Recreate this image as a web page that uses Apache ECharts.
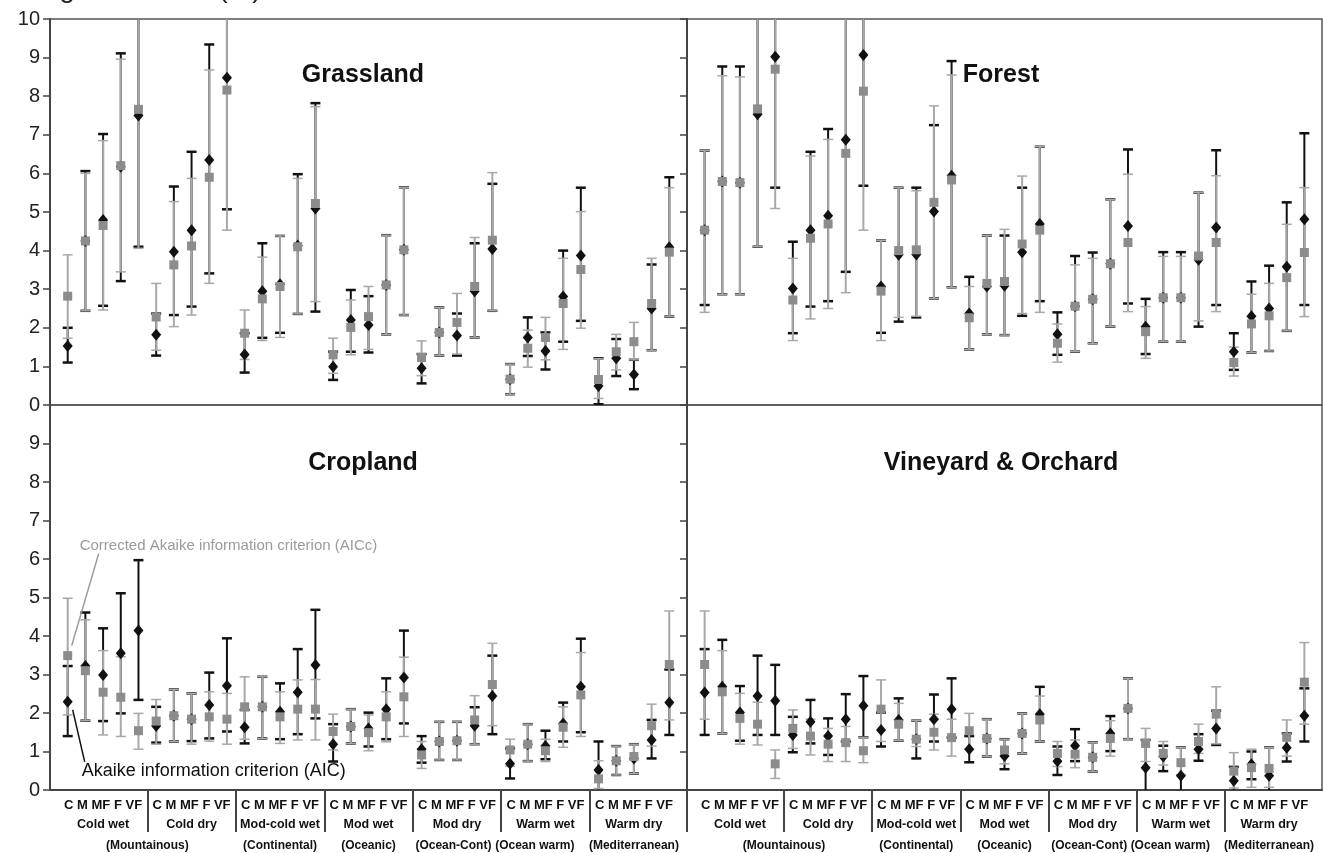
<!DOCTYPE html>
<html><head><meta charset="utf-8">
<script src="https://cdn.jsdelivr.net/npm/echarts@6/dist/echarts.min.js"></script>
<style>html,body{margin:0;padding:0;background:#fff}#c{width:1323px;height:853px}</style>
</head><body><div id="c"></div><script>
// ---------- labels ----------
const classes = ['C', 'M', 'MF', 'F', 'VF'];
const groups = ['Cold wet', 'Cold dry', 'Mod-cold wet', 'Mod wet', 'Mod dry', 'Warm wet', 'Warm dry'];
const regionNotes = ['(Mountainous)', '(Continental)', '(Oceanic)', '(Ocean-Cont)', '(Ocean warm)', '(Mediterranean)'];
const regionNotePos = [4.5, 12, 17, 21.8, 26.4, 32];
const panels = ['Grassland', 'Forest', 'Cropland', 'Vineyard & Orchard'];
const yTicks = [0, 1, 2, 3, 4, 5, 6, 7, 8, 9, 10];
const yTitle = 'Range of values (%)';
const noteAICc = 'Corrected Akaike information criterion (AICc)';
const noteAIC = 'Akaike information criterion (AIC)';

// ---------- Grassland ----------
const grassAIC   = [1.53,4.25,4.79,6.17,7.5, 1.82,3.97,4.53,6.35,8.48, 1.31,2.95,3.13,4.13,5.09, 0.99,2.2,2.07,3.11,4.02, 0.95,1.88,1.8,2.95,4.04, 0.67,1.75,1.4,2.81,3.87, 0.49,1.21,0.79,2.5,4.09];
const grassAICLo = [1.1,2.44,2.57,3.21,4.1, 1.28,2.33,2.55,3.41,5.07, 0.84,1.74,1.87,2.36,2.42, 0.65,1.38,1.36,1.83,2.33, 0.56,1.28,1.28,1.75,2.44, 0.28,1.27,0.92,1.64,2.18, 0.02,0.75,0.41,1.42,2.29];
const grassAICHi = [2.0,6.06,7.02,9.11,10.8, 2.37,5.66,6.56,9.34,10.8, 1.86,4.19,4.38,5.98,7.82, 1.38,2.98,2.82,4.4,5.64, 1.32,2.53,2.37,4.19,5.73, 1.06,2.27,1.88,4.0,5.63, 1.21,1.71,1.17,3.64,5.9];
const grassAICc   = [2.82,4.25,4.65,6.2,7.66, 2.28,3.63,4.12,5.9,8.16, 1.86,2.75,3.07,4.1,5.22, 1.3,2.01,2.29,3.11,4.02, 1.23,1.88,2.14,3.07,4.27, 0.67,1.47,1.75,2.63,3.51, 0.66,1.38,1.64,2.63,3.96];
const grassAICcLo = [1.73,2.44,2.46,3.45,4.06, 1.42,2.03,2.33,3.15,4.53, 1.18,1.67,1.75,2.36,2.68, 0.82,1.3,1.44,1.83,2.33, 0.76,1.28,1.32,1.75,2.44, 0.28,0.98,1.17,1.44,1.99, 0.17,0.91,1.17,1.42,2.29];
const grassAICcHi = [3.89,6.0,6.85,8.96,10.8, 3.15,5.27,5.87,8.68,10.8, 2.46,3.83,4.38,5.87,7.73, 1.73,2.72,3.07,4.4,5.64, 1.66,2.53,2.89,4.34,6.02, 1.06,1.94,2.27,3.8,5.01, 1.2,1.83,2.14,3.8,5.63];

// ---------- Forest ----------
const forestAIC   = [4.53,5.79,5.76,7.53,9.02, 3.02,4.53,4.9,6.87,9.07, 3.07,3.89,3.9,5.01,5.94, 2.37,3.07,3.09,3.96,4.69, 1.83,2.56,2.74,3.66,4.64, 2.03,2.78,2.78,3.76,4.6, 1.38,2.3,2.5,3.58,4.81];
const forestAICLo = [2.59,2.87,2.87,4.1,5.63, 1.86,2.55,2.69,3.45,5.68, 1.87,2.16,2.27,2.76,3.05, 1.44,1.83,1.81,2.31,2.69, 1.3,1.38,1.6,2.03,2.63, 1.32,1.64,1.64,2.03,2.59, 0.91,1.36,1.4,1.92,2.59];
const forestAICHi = [6.59,8.77,8.77,10.8,10.8, 4.23,6.56,7.15,10.8,10.8, 4.26,5.63,5.63,7.25,8.91, 3.32,4.39,4.39,5.63,6.69, 2.4,3.86,3.95,5.33,6.62, 2.75,3.96,3.96,5.5,6.6, 1.86,3.2,3.61,5.25,7.04];
const forestAICc   = [4.53,5.79,5.76,7.67,8.7, 2.72,4.32,4.69,6.52,8.13, 2.95,4.0,4.02,5.25,5.83, 2.26,3.15,3.2,4.17,4.53, 1.6,2.56,2.74,3.66,4.21, 1.9,2.78,2.78,3.86,4.21, 1.1,2.1,2.31,3.3,3.95];
const forestAICcLo = [2.4,2.87,2.87,4.1,5.09, 1.67,2.23,2.5,2.91,4.53, 1.67,2.27,2.3,2.76,3.05, 1.44,1.83,1.81,2.37,2.4, 1.11,1.38,1.6,2.03,2.42, 1.21,1.64,1.64,2.18,2.42, 0.75,1.36,1.4,1.92,2.29];
const forestAICcHi = [6.59,8.53,8.5,10.8,10.8, 3.8,6.45,6.88,10.8,10.8, 4.26,5.63,5.55,7.75,8.55, 3.07,4.39,4.55,5.93,6.69, 2.1,3.63,3.8,5.33,5.98, 2.55,3.85,3.85,5.5,5.94, 1.5,2.87,3.15,4.68,5.63];

// ---------- Cropland ----------
const cropAIC   = [2.29,3.22,2.99,3.55,4.14, 1.66,1.93,1.84,2.21,2.71, 1.63,2.16,2.03,2.54,3.25, 1.19,1.65,1.6,2.1,2.92, 1.06,1.26,1.28,1.67,2.44, 0.68,1.19,1.14,1.73,2.68, 0.52,0.76,0.82,1.3,2.27];
const cropAICLo = [1.4,1.8,1.79,1.99,2.34, 1.23,1.26,1.27,1.34,1.52, 1.21,1.34,1.32,1.45,1.86, 0.74,1.21,1.13,1.32,1.73, 0.71,0.78,0.78,1.19,1.45, 0.3,0.75,0.8,1.26,1.5, -0.1,0.39,0.43,0.82,1.43];
const cropAICHi = [3.22,4.61,4.2,5.11,5.97, 2.16,2.61,2.51,3.05,3.94, 2.08,2.94,2.77,3.66,4.68, 1.71,2.1,2.01,2.9,4.14, 1.4,1.77,1.77,2.15,3.49, 1.08,1.71,1.54,2.27,3.93, 1.26,1.14,1.19,1.82,3.13];
const cropAICc   = [3.49,3.1,2.54,2.41,1.54, 1.79,1.93,1.84,1.9,1.84, 2.16,2.16,1.9,2.1,2.1, 1.52,1.65,1.49,1.9,2.42, 0.91,1.26,1.28,1.82,2.74, 1.04,1.19,1.02,1.63,2.47, 0.29,0.76,0.87,1.67,3.26];
const cropAICcLo = [1.95,1.8,1.43,1.39,1.06, 1.19,1.26,1.19,1.27,1.19, 1.32,1.34,1.21,1.3,1.3, 1.04,1.21,1.02,1.25,1.39, 0.56,0.78,0.78,1.19,1.67, 0.62,0.75,0.74,1.11,1.39, 0.04,0.39,0.43,1.14,1.82];
const cropAICcHi = [4.98,4.42,3.62,3.46,1.99, 2.35,2.61,2.51,2.55,2.51, 2.94,2.94,2.55,2.86,2.87, 1.97,2.1,1.95,2.55,3.45, 1.26,1.77,1.77,2.45,3.81, 1.32,1.71,1.32,2.16,3.57, 0.76,1.14,1.19,2.23,4.65];

// ---------- Vineyard & Orchard ----------
const vineAIC   = [2.53,2.68,2.01,2.44,2.32, 1.43,1.77,1.4,1.84,2.19, 1.56,1.82,1.32,1.84,2.1, 1.06,1.34,0.88,1.47,1.97, 0.75,1.15,0.85,1.47,2.12, 0.58,0.87,0.37,1.06,1.6, 0.24,0.67,0.37,1.1,1.93];
const vineAICLo = [1.43,1.47,1.28,1.43,1.43, 0.98,1.21,0.91,1.26,1.37, 1.13,1.28,0.82,1.26,1.36, 0.72,0.87,0.54,0.95,1.26, 0.39,0.75,0.48,1.01,1.32, -0.1,0.49,-0.1,0.76,1.17, -0.1,0.28,-0.1,0.74,1.26];
const vineAICHi = [3.66,3.9,2.7,3.49,3.25, 1.9,2.34,1.86,2.49,2.96, 2.01,2.38,1.8,2.48,2.9, 1.4,1.84,1.32,1.99,2.68, 1.13,1.58,1.24,1.92,2.9, 1.3,1.15,1.11,1.45,2.06, 0.6,1.0,1.11,1.47,2.64];
const vineAICc   = [3.26,2.55,1.86,1.71,0.68, 1.6,1.4,1.19,1.23,1.02, 2.1,1.71,1.32,1.5,1.36, 1.54,1.34,1.04,1.47,1.82, 0.95,0.93,0.85,1.34,2.12, 1.21,0.95,0.71,1.26,1.97, 0.49,0.58,0.56,1.37,2.8];
const vineAICcLo = [1.84,1.47,1.19,1.17,0.3, 1.08,0.91,0.74,0.74,0.71, 1.26,1.28,1.13,1.04,0.88, 1.06,0.87,0.68,0.95,1.26, 0.61,0.58,0.48,0.88,1.32, 0.74,0.65,0.4,0.95,1.2, 0.05,0.07,0.07,0.88,1.71];
const vineAICcHi = [4.65,3.62,2.51,2.28,1.04, 2.08,1.84,1.6,1.65,1.37, 2.86,2.25,1.8,1.97,1.84, 1.99,1.84,1.32,1.99,2.44, 1.26,1.3,1.24,1.8,2.9, 1.6,1.26,1.11,1.71,2.68, 0.97,1.06,1.11,1.82,3.83];

// ---------- build ----------
const panelData = [
  [grassAIC, grassAICLo, grassAICHi, grassAICc, grassAICcLo, grassAICcHi],
  [forestAIC, forestAICLo, forestAICHi, forestAICc, forestAICcLo, forestAICcHi],
  [cropAIC, cropAICLo, cropAICHi, cropAICc, cropAICcLo, cropAICcHi],
  [vineAIC, vineAICLo, vineAICHi, vineAICc, vineAICcLo, vineAICcHi]
];
const nPos = groups.length * classes.length;
const groupCenters = groups.map((g, i) => i * classes.length + (classes.length - 1) / 2);
const groupBounds = groups.slice(1).map((g, i) => (i + 1) * classes.length - 0.5);

const FONT = 'Liberation Sans';
const BLACK = '#111';
const GRAY_BAR = '#a8a8a8';
const GRAY_MARK = '#8c8c8c';
const AXIS = '#444';

const grids = [
  {left: 50, top: 19, width: 637, height: 386},
  {left: 687, top: 19, width: 635, height: 386},
  {left: 50, top: 405, width: 637, height: 385},
  {left: 687, top: 405, width: 635, height: 385}
].map(g => Object.assign(g, {show: true, borderColor: '#555', borderWidth: 1.5, containLabel: false}));

function errRender(color, lw, capW, capLw) {
  return function (params, api) {
    const x = api.value(0), lo = api.value(1), hi = api.value(2);
    const a = api.coord([x, lo]), b = api.coord([x, hi]);
    const h = capW / 2;
    return {type: 'group', children: [
      {type: 'line', shape: {x1: a[0], y1: a[1], x2: b[0], y2: b[1]}, style: {stroke: color, lineWidth: lw}},
      {type: 'line', shape: {x1: a[0] - h, y1: a[1], x2: a[0] + h, y2: a[1]}, style: {stroke: color, lineWidth: capLw}},
      {type: 'line', shape: {x1: b[0] - h, y1: b[1], x2: b[0] + h, y2: b[1]}, style: {stroke: color, lineWidth: capLw}}
    ]};
  };
}

const xAxes = [];
const yAxes = [];
for (let p = 0; p < 4; p++) {
  const bottom = p >= 2;
  const ticks = groupBounds.slice();
  if (p === 2) ticks.push(nPos);
  xAxes.push({
    type: 'value', gridIndex: p, min: -1, max: nPos, position: 'bottom',
    splitLine: {show: false},
    axisLine: {show: bottom, onZero: false, lineStyle: {color: AXIS, width: 2}},
    axisTick: {show: bottom, customValues: ticks, length: 42, lineStyle: {color: AXIS, width: 2}},
    axisLabel: {
      show: bottom, customValues: groupCenters, margin: 5, interval: 0,
      formatter: v => '{a|' + classes.join(' ') + '}\n{b|' + groups[groupCenters.indexOf(v)] + '}',
      rich: {
        a: {fontFamily: FONT, fontSize: 13, fontWeight: 'bold', color: '#111', lineHeight: 20},
        b: {fontFamily: FONT, fontSize: 12.5, fontWeight: 'bold', color: '#111', lineHeight: 20}
      }
    }
  });
  yAxes.push({
    type: 'value', gridIndex: p, min: yTicks[0], max: yTicks[yTicks.length - 1], interval: 1,
    splitLine: {show: false},
    axisLine: {show: true, onZero: false, lineStyle: {color: AXIS, width: 2}},
    axisTick: {show: true, length: 7, lineStyle: {color: AXIS, width: 1.5}},
    axisLabel: {
      show: p % 2 === 0, margin: 10, fontFamily: FONT, fontSize: 20, color: '#222',
      formatter: v => (p === 2 && v === 10) ? '' : String(v)
    }
  });
}
// region notes axes (bottom panels)
[2, 3].forEach(p => {
  xAxes.push({
    type: 'value', gridIndex: p, min: -1, max: nPos, position: 'bottom',
    splitLine: {show: false}, axisLine: {show: false, onZero: false}, axisTick: {show: false},
    axisLabel: {
      customValues: regionNotePos, margin: 50, interval: 0,
      fontFamily: FONT, fontSize: 12, fontWeight: 'bold', color: '#111',
      formatter: v => regionNotes[regionNotePos.indexOf(v)]
    }
  });
});

const series = [];
for (let p = 0; p < 4; p++) {
  const [aic, aicLo, aicHi, aicc, aiccLo, aiccHi] = panelData[p];
  series.push({
    type: 'custom', xAxisIndex: p, yAxisIndex: p, clip: true, z: 2,
    renderItem: errRender(BLACK, 2, 10, 2.5),
    encode: {x: 0, y: [1, 2]},
    data: aic.map((v, i) => [i, aicLo[i], aicHi[i]])
  });
  series.push({
    type: 'custom', xAxisIndex: p, yAxisIndex: p, clip: true, z: 3,
    renderItem: errRender(GRAY_BAR, 2, 10, 1.5),
    encode: {x: 0, y: [1, 2]},
    data: aicc.map((v, i) => [i, aiccLo[i], aiccHi[i]])
  });
  series.push({
    type: 'scatter', xAxisIndex: p, yAxisIndex: p, z: 4, symbol: 'diamond', symbolSize: [10, 12],
    itemStyle: {color: BLACK, opacity: 1}, silent: true,
    data: aic.map((v, i) => [i, v])
  });
  series.push({
    type: 'scatter', xAxisIndex: p, yAxisIndex: p, z: 5, symbol: 'rect', symbolSize: 9,
    itemStyle: {color: GRAY_MARK, opacity: 1}, silent: true,
    data: aicc.map((v, i) => [i, v])
  });
}

const chart = echarts.init(document.getElementById('c'), null, {renderer: 'canvas'});
chart.setOption({
  animation: false,
  backgroundColor: '#fff',
  grid: grids,
  xAxis: xAxes,
  yAxis: yAxes,
  series: series
});

// panel titles and annotations
const titlePos = [[363, 75], [1001, 75], [363, 463], [1001, 463]];
const gfx = panels.map((t, i) => ({
  type: 'text', x: titlePos[i][0], y: titlePos[i][1], z: 10,
  style: {text: t, font: 'bold 25px "Liberation Sans"', fill: '#111', textAlign: 'center', textVerticalAlign: 'middle'}
}));
gfx.push({type: 'text', x: 8, y: 3, z: 10,
  style: {text: yTitle, font: '28px "Liberation Sans"', fill: '#222', textAlign: 'left', textVerticalAlign: 'bottom'}});
const pG = chart.convertToPixel({xAxisIndex: 2, yAxisIndex: 2}, [0, cropAICc[0]]);
const pB = chart.convertToPixel({xAxisIndex: 2, yAxisIndex: 2}, [0, cropAIC[0]]);
gfx.push({type: 'line', z: 10, shape: {x1: pG[0] + 4, y1: pG[1] - 10, x2: pG[0] + 31, y2: pG[1] - 102},
  style: {stroke: '#9a9a9a', lineWidth: 1.5}});
gfx.push({type: 'text', x: pG[0] + 12, y: pG[1] - 110, z: 10,
  style: {text: noteAICc, font: '15px "Liberation Sans"', fill: '#9a9a9a', textAlign: 'left', textVerticalAlign: 'middle'}});
gfx.push({type: 'line', z: 10, shape: {x1: pB[0] + 5, y1: pB[1] + 8, x2: pB[0] + 17, y2: pB[1] + 60},
  style: {stroke: '#111', lineWidth: 1.5}});
gfx.push({type: 'text', x: pB[0] + 14, y: pB[1] + 69, z: 10,
  style: {text: noteAIC, font: '18px "Liberation Sans"', fill: '#111', textAlign: 'left', textVerticalAlign: 'middle'}});
chart.setOption({graphic: gfx});
</script></body></html>
